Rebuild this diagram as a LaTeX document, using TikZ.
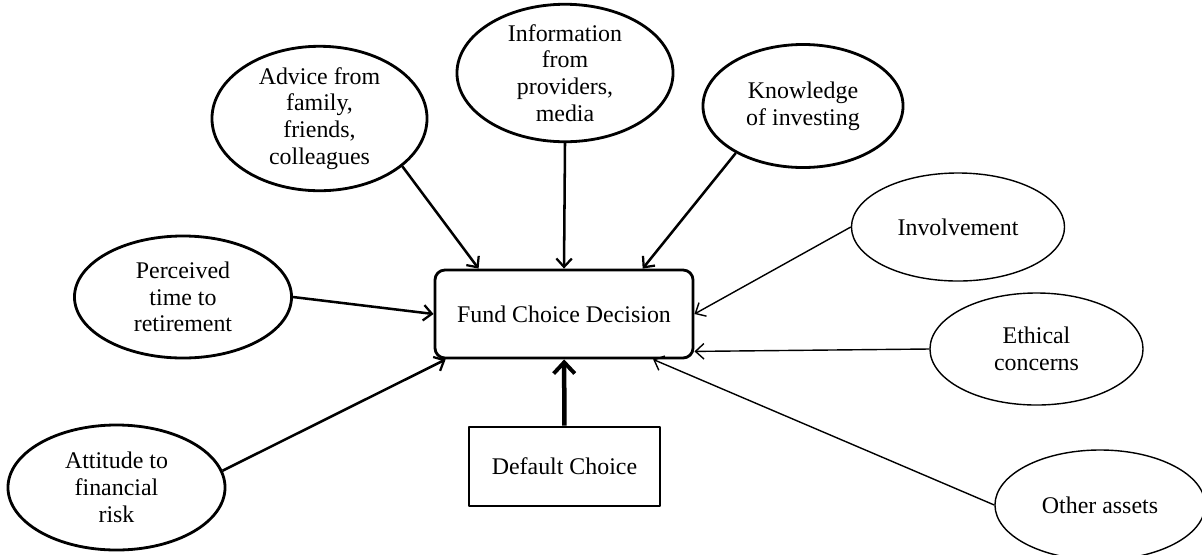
\documentclass[tikz,border=0pt]{standalone}
\usepackage{fontspec}
\setmainfont{Liberation Serif}
\usetikzlibrary{shapes.geometric,arrows.meta}
\begin{document}
\begin{tikzpicture}[x=0.025cm, y=-0.025cm, line join=round,
	factor/.style={ellipse, draw, line width=2pt, inner sep=0pt, align=center},
	minor/.style={ellipse, draw, line width=1pt, inner sep=0pt, align=center},
	link/.style={line width=1.8pt, -{Straight Barb[length=6pt, width=11pt, line width=1.6pt]}},
	thinlink/.style={line width=1pt, -{Straight Barb[length=6pt, width=11pt, line width=1pt]}},
	every node/.style={font=\fontsize{17}{19}\selectfont}]
	\useasboundingbox (0,0) rectangle (1202,554);
	% centre
	\node[draw, line width=2pt, rounded corners=0.25cm, minimum width=6.45cm, minimum height=2.2cm] (fund) at (564,314) {Fund Choice Decision};
	\node[draw, line width=2pt, minimum width=4.775cm, minimum height=1.975cm] (default) at (564.5,466.5) {Default Choice};
	% factors
	\node[factor, minimum width=5.375cm, minimum height=3.075cm] (advice) at (319.5,118.5) {Advice from\\family,\\friends,\\colleagues};
	\node[factor, minimum width=5.4cm, minimum height=3.1cm] (info) at (565,73) {Information\\from\\providers,\\media};
	\node[factor, minimum width=5cm, minimum height=3.075cm] (knowl) at (803,106) {Knowledge\\of investing};
	\node[factor, minimum width=5.425cm, minimum height=3.05cm] (perceived) at (183,297) {Perceived\\time to\\retirement};
	\node[factor, minimum width=5.425cm, minimum height=3.125cm] (attitude) at (116.5,487.5) {Attitude to\\financial\\risk};
	\node[minor, minimum width=5.325cm, minimum height=2.7cm] (involve) at (958,227) {Involvement};
	\node[minor, minimum width=5.325cm, minimum height=2.8cm] (ethical) at (1036.5,349) {Ethical\\concerns};
	\node[minor, minimum width=5.25cm, minimum height=2.75cm] (other) at (1100,505) {Other assets};
	% arrows
	\draw[link] (advice.-30)--(fund.152);
	\draw[link] (info.south)--(fund.90);
	\draw[link] (knowl.215)--(fund.30);
	\draw[link] (perceived.east)--(fund.west);
	\draw[link] (attitude.9)--(fund.201);
	\draw[line width=3.2pt, -{Straight Barb[length=8pt, width=15pt, line width=2.8pt]}] (default)--(fund);
	\draw[thinlink] (involve.west)--(fund.0);
	\draw[thinlink] (ethical.west)--(fund.344);
	\draw[thinlink] (other.west)--(fund.333);
\end{tikzpicture}
\end{document}
